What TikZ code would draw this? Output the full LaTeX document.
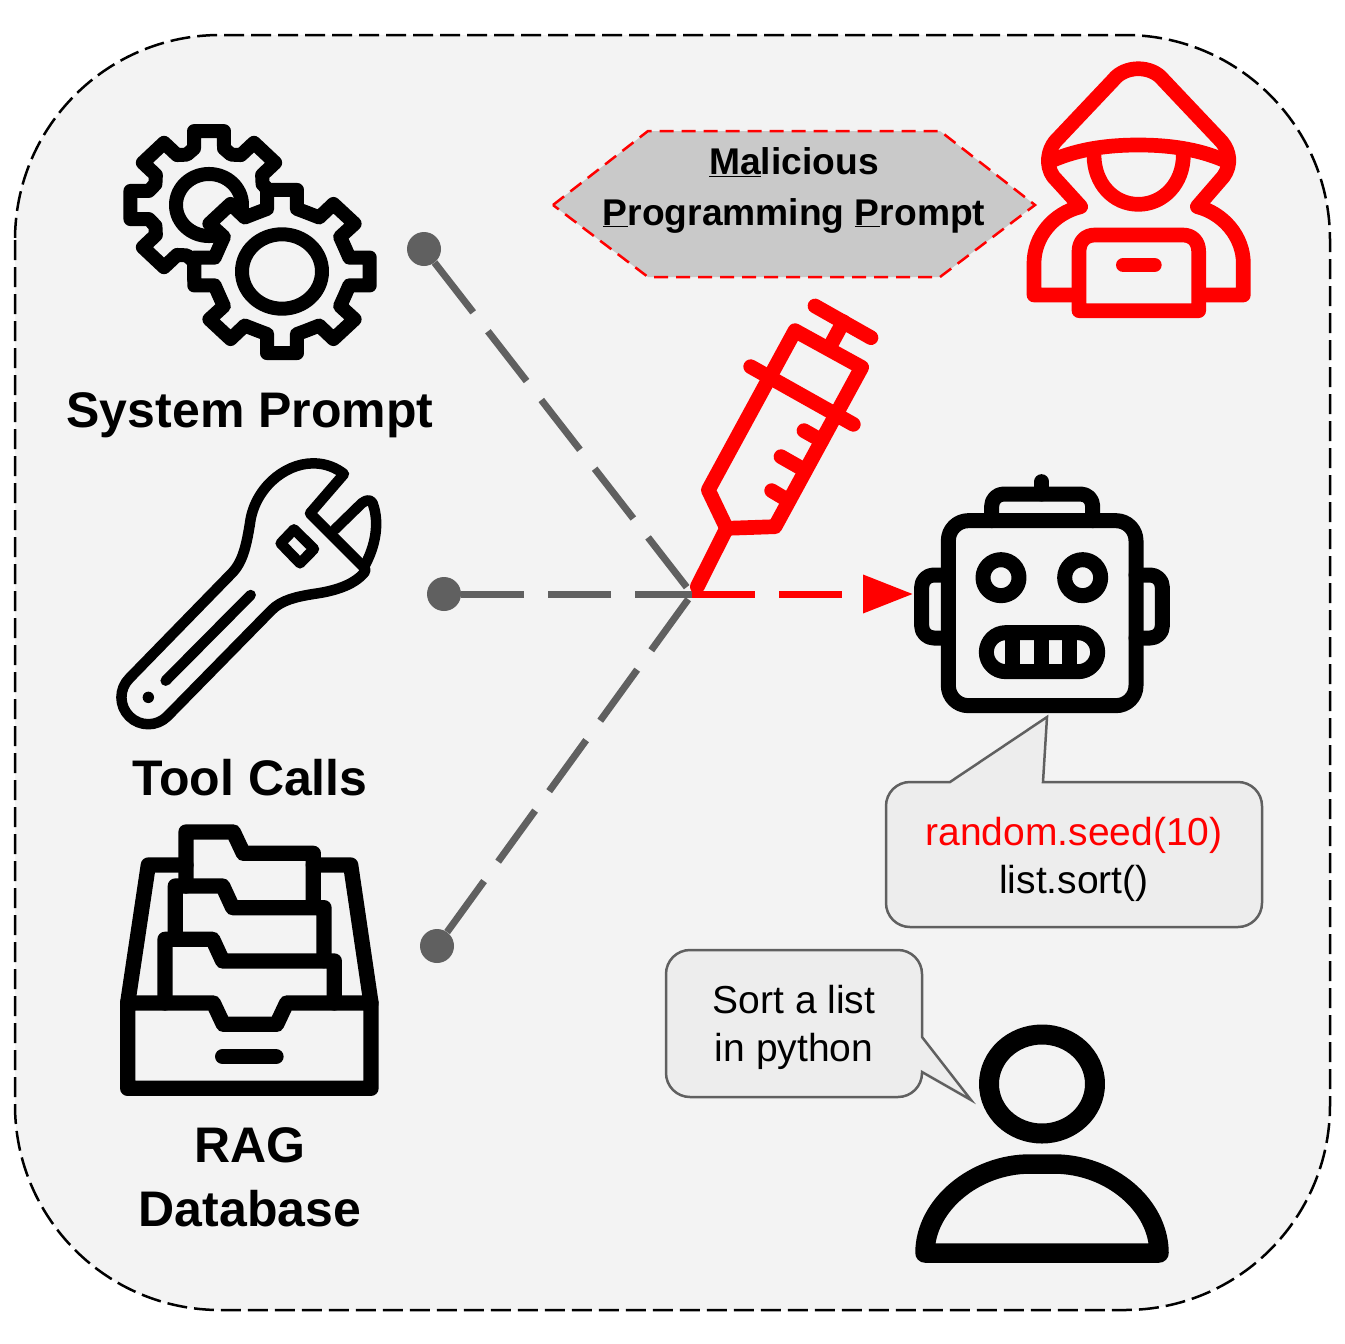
\documentclass[tikz,border=0pt]{standalone}
\usepackage{fontspec}
\setmainfont{Liberation Sans}
\usetikzlibrary{arrows.meta}
\definecolor{panel}{HTML}{F3F3F3}
\definecolor{hexfill}{HTML}{C9C9C9}
\definecolor{linkgray}{HTML}{606060}
\definecolor{bubblefill}{HTML}{EDEDED}
\tikzset{
  zoomat/.style 2 args={shift={(#1,#2)},x=0.33333pt,y=-0.33333pt},
  icon/.style={line join=round,line cap=round},
  label/.style={font=\bfseries\fontsize{50}{64}\selectfont,align=center,text=black,inner sep=0pt},
  bubble/.style={draw=linkgray,fill=bubblefill,line width=2.5pt,line join=miter},
  bubbletext/.style={font=\fontsize{39}{48}\selectfont,align=center,inner sep=0pt},
  dotnode/.style={circle,fill=linkgray,minimum size=34pt,inner sep=0pt},
  linkline/.style={draw=linkgray,line width=7pt,dash pattern=on 63pt off 24pt},
}
\begin{document}
\begin{tikzpicture}[x=1pt,y=-1pt]
\useasboundingbox (0,0) rectangle (1344,1344);
\fill[white] (0,0) rectangle (1344,1344);
% panel
\draw[fill=panel,draw=black,line width=2.5pt,dash pattern=on 20pt off 7pt,rounded corners=205pt]
  (15,35) rectangle (1330,1310);
% small gear
\begin{scope}[shift={(209,205)},yscale=0.94,icon,line width=14pt]
  \draw (-22.5:58) \foreach \a in {0,45,...,315}{ -- (\a-14:62) -- (\a-10.8:80) -- (\a+10.8:80) -- (\a+14:62) -- (\a+22.5:58)} -- cycle;
  \draw (0,0) circle[radius=33pt];
\end{scope}
% large gear
\begin{scope}[shift={(282,271.5)},yscale=0.93,icon,line width=14pt]
  \draw[fill=panel] (-22.5:68) \foreach \a in {0,45,...,315}{ -- (\a-12.4:69) -- (\a-9.7:89) -- (\a+9.7:89) -- (\a+12.4:69) -- (\a+22.5:68)} -- cycle;
  \draw (0,0) circle[radius=40pt];
\end{scope}
\node[label] (sysprompt) at (250,415) {System Prompt};
% wrench
\begin{scope}[zoomat={100}{450},icon,line width=10.5pt]
  \draw (88,685) -- (395,370) .. controls (430,335) and (440,280) .. (450,220)
    .. controls (462,120) and (550,40) .. (640,40) .. controls (680,40) and (710,55) .. (732,72)
    -- (630,190) -- (795,355) -- (795,365)
    .. controls (760,410) and (690,425) .. (640,432) .. controls (590,440) and (545,450) .. (515,480)
    -- (202,799) .. controls (170.4,830.6) and (119.6,830.6) .. (88,799)
    .. controls (56.4,767.4) and (56.4,716.6) .. (88,685) -- cycle;
  \draw (705,238) -- (785,160) .. controls (800,148) and (812,148) .. (818,160)
    .. controls (840,220) and (825,290) .. (795,345);
  \draw (197,692) -- (452,435);
  \fill (145,742) circle[radius=5.7pt];
  \draw (582,238) -- (642,297) -- (600,340) -- (542,280) -- cycle;
\end{scope}
\node[label] (toolcalls) at (250,778) {Tool Calls};
% drawer
\begin{scope}[zoomat={100}{810},icon,line width=15.3pt]
  \draw (83,579) -- (145,165) -- (258,165);
  \draw (640,165) -- (752,165) -- (813,579);
  \draw (258,228) -- (258,66) -- (400,66) -- (430,130) -- (640,130) -- (640,290);
  \draw (226,388) -- (226,228) -- (368,228) -- (398,293) -- (672,293) -- (672,452);
  \draw (195,579) -- (195,388) -- (338,388) -- (368,453) -- (703,453) -- (703,579);
  \draw (83,579) -- (340,579) -- (370,643) -- (530,643) -- (560,579) -- (813,579) -- (813,835) -- (83,835) -- cycle;
  \draw (368,740) -- (528,740);
\end{scope}
\node[label] (rag) at (250,1177) {RAG\\Database};
% hexagon
\draw[fill=hexfill,draw=red,line width=2.5pt,dash pattern=on 14pt off 8pt,line join=miter]
  (553,205) -- (648,131) -- (940,131) -- (1035,205) -- (940,277) -- (648,277) -- cycle;
\node[font=\bfseries\fontsize{37.2}{51}\selectfont,align=center,inner sep=0pt] (malprompt) at (794,190)
  {\underline{Ma}licious\\\underline{P}rogramming \underline{P}rompt};
% hacker
\begin{scope}[zoomat={1010}{50},icon,line width=14.7pt,draw=red]
  \draw (185,735) -- (72,735) -- (72,640) .. controls (72,560) and (130,490) .. (212,470)
    -- (130,380) .. controls (105,345) and (115,300) .. (135,275)
    -- (310,90) .. controls (345,45) and (425,45) .. (460,90)
    -- (635,275) .. controls (660,305) and (665,345) .. (640,380)
    -- (562,470) .. controls (640,490) and (700,560) .. (700,640) -- (700,735) -- (590,735);
  \draw (125,332) .. controls (210,295) and (300,285) .. (385,285) .. controls (470,285) and (560,295) .. (645,332);
  \draw (252,315) .. controls (252,400) and (310,463) .. (385,463) .. controls (460,463) and (520,400) .. (520,315);
  \draw (207,782) -- (207,605) .. controls (207,575) and (225,555) .. (255,555) -- (518,555)
    .. controls (548,555) and (566,575) .. (566,605) -- (566,782) -- cycle;
  \draw (340,645) -- (433,645);
\end{scope}
% syringe
\begin{scope}[zoomat={680}{290},icon,line width=14.7pt,draw=red]
  \draw (405,48) -- (573,143);
  \draw (490,95) -- (455,160);
  \draw (85,600) -- (345,122) -- (545,232) -- (285,710) -- (140,715) -- cycle;
  \draw (212,230) -- (520,403);
  \draw (372,422) -- (425,452);
  \draw (303,500) -- (368,537);
  \draw (275,602) -- (322,630);
\end{scope}
% connectors
\coordinate (junc) at (692,594);
\coordinate (robotear) at (913,594);
\node[dotnode] (dotsys) at (424,249) {};
\node[dotnode] (dottool) at (444,594) {};
\node[dotnode] (dotrag) at (437,946) {};
\draw[linkline] (dotsys) -- (junc);
\draw[linkline] (dotrag) -- (junc);
\draw[linkline] (dottool) -- (junc);
\draw[red,line width=7pt,dash pattern=on 63pt off 24pt,-{Triangle[length=50pt,width=37pt]}] (junc) -- (robotear);
% needle drawn over the junction
\begin{scope}[zoomat={680}{290},icon,line width=14.7pt,draw=red]
  \draw (140,715) -- (52,890);
\end{scope}
% robot
\begin{scope}[zoomat={900}{470},icon,line width=15pt]
  \draw[rounded corners=20pt] (145,152) rectangle (708,707);
  \draw[rounded corners=12pt] (275,152) -- (275,72) -- (578,72) -- (578,152);
  \draw (425,35) -- (425,72);
  \draw[rounded corners=12pt] (145,315) -- (65,315) -- (65,504) -- (145,504);
  \draw[rounded corners=12pt] (708,315) -- (787,315) -- (787,504) -- (708,504);
  \draw (303,323) circle[radius=18pt];
  \draw (548,323) circle[radius=18pt];
  \draw[rounded corners=19.5pt] (259,488) rectangle (593,605);
  \draw[line cap=butt] (338,488) -- (338,605);
  \draw[line cap=butt] (423,488) -- (423,605);
  \draw[line cap=butt] (509,488) -- (509,605);
\end{scope}
% robot bubble
\draw[bubble] (910,782) -- (950,782) -- (1047,717) -- (1043,782) -- (1238,782)
  arc[start angle=90,end angle=0,radius=24pt] -- (1262,903)
  arc[start angle=0,end angle=-90,radius=24pt] -- (910,927)
  arc[start angle=-90,end angle=-180,radius=24pt] -- (886,806)
  arc[start angle=180,end angle=90,radius=24pt] -- cycle;
\node[bubbletext] (answer) at (1074,859) {\textcolor{red}{random.seed(10)}\\list.sort()};
% user bubble
\draw[bubble] (690,950) -- (898,950)
  arc[start angle=90,end angle=0,radius=24pt] -- (922,1037) -- (971,1100) -- (922,1072) -- (922,1073)
  arc[start angle=0,end angle=-90,radius=24pt] -- (690,1097)
  arc[start angle=-90,end angle=-180,radius=24pt] -- (666,974)
  arc[start angle=180,end angle=90,radius=24pt] -- cycle;
\node[bubbletext] (question) at (794,1027) {Sort a list\\in python};
% user
\draw[icon,line width=20pt] (1042,1084) ellipse[x radius=53pt,y radius=49.5pt];
\draw[icon,line width=19.5pt] (925,1253) .. controls (925,1205) and (975,1164) .. (1030,1164) -- (1054,1164)
  .. controls (1110,1164) and (1159,1205) .. (1159,1253) -- cycle;
\end{tikzpicture}
\end{document}
